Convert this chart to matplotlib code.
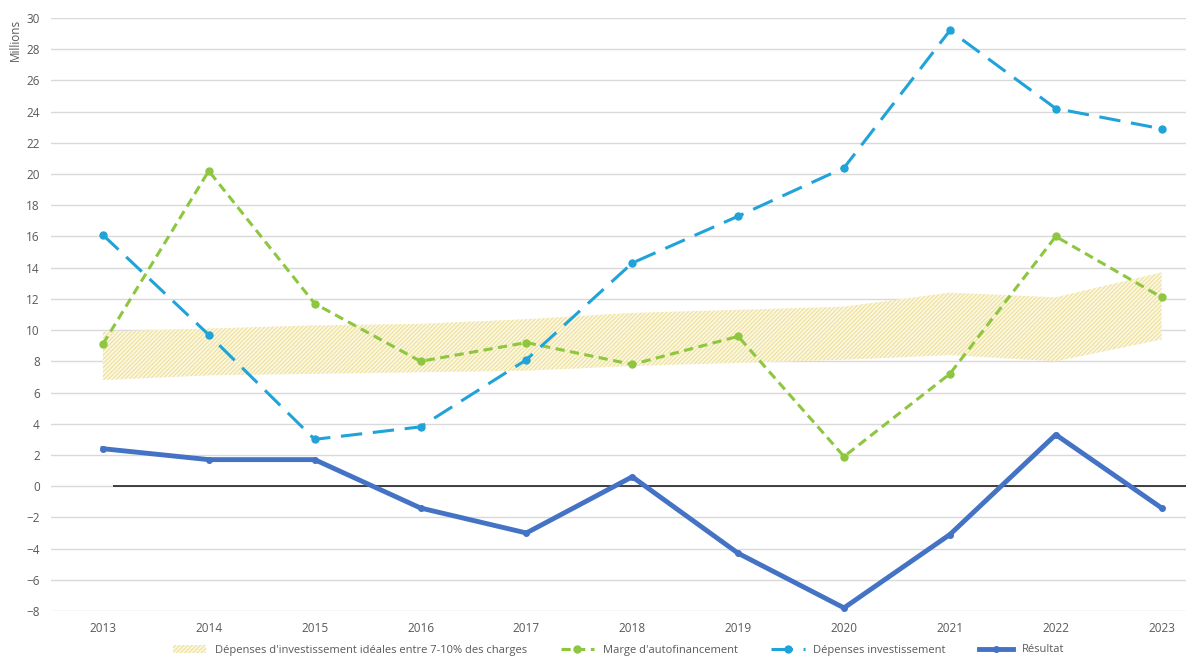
import matplotlib
matplotlib.use("Agg")
import matplotlib.pyplot as plt
import numpy as np

years = [2013, 2014, 2015, 2016, 2017, 2018, 2019, 2020, 2021, 2022, 2023]
band_low = [6.8, 7.1, 7.2, 7.3, 7.4, 7.7, 7.9, 8.1, 8.4, 8.0, 9.4]
band_high = [9.9, 10.1, 10.3, 10.4, 10.7, 11.1, 11.3, 11.5, 12.4, 12.1, 13.7]
marge = [9.1, 20.2, 11.7, 8.0, 9.2, 7.8, 9.6, 1.9, 7.2, 16.0, 12.1]
depenses = [16.1, 9.7, 3.0, 3.8, 8.1, 14.3, 17.3, 20.4, 29.2, 24.2, 22.9]
resultat = [2.4, 1.7, 1.7, -1.4, -3.0, 0.6, -4.3, -7.8, -3.1, 3.3, -1.4]

GREEN = "#8dc63f"
CYAN = "#1fa3d9"
NAVY = "#4472c4"
HATCH = "#eee2a0"
GREY = "#595959"

plt.rcParams["hatch.linewidth"] = 0.9
plt.rcParams["font.family"] = ["Open Sans", "DejaVu Sans"]

fig = plt.figure(figsize=(11.86, 6.58), dpi=100)
ax = fig.add_axes([51 / 1186, 47 / 658, 1 - 51 / 1186, (611 - 18) / 658])

x = np.arange(len(years))

ax.fill_between(x, band_low, band_high, facecolor="#fcf8e4", edgecolor=HATCH,
                hatch="////////", linewidth=0,
                label="Dépenses d'investissement idéales entre 7-10% des charges")
ax.hlines(0, 0.1, 10.5, color="#222222", linewidth=1.2, zorder=2)
ax.plot(x, marge, color=GREEN, linestyle=(0, (3, 1.8)), linewidth=2.2,
        marker="o", markersize=5, label="Marge d'autofinancement", zorder=3)
ax.plot(x, depenses, color=CYAN, linestyle=(0, (7, 3.5)), linewidth=2.2,
        marker="o", markersize=5, label="Dépenses investissement", zorder=3)
ax.plot(x, resultat, color=NAVY, linewidth=3.5, marker="o", markersize=4,
        label="Résultat", zorder=4)

ax.set_xlim(-0.49, 10.23)
ax.set_ylim(-8, 30)
ax.set_yticks(range(-8, 31, 2))
ax.set_xticks(x)
ax.set_xticklabels([str(y) for y in years])
ax.grid(True, axis="y", color="#d9d9d9", linewidth=1)
ax.set_axisbelow(True)
for s in ax.spines.values():
    s.set_visible(False)
ax.tick_params(length=0, labelsize=8.5, colors=GREY, pad=8)

fig.text(15 / 1186, 1 - 40 / 658, "Millions", rotation=90, ha="center", va="center",
         fontsize=8.5, color=GREY)

ax.legend(loc="center", bbox_to_anchor=(0.5, -39 / 593), ncol=4, frameon=False,
          fontsize=8, labelcolor=GREY, handlelength=3, columnspacing=3,
          borderpad=0.2)

fig.savefig("out.png", dpi=100)
